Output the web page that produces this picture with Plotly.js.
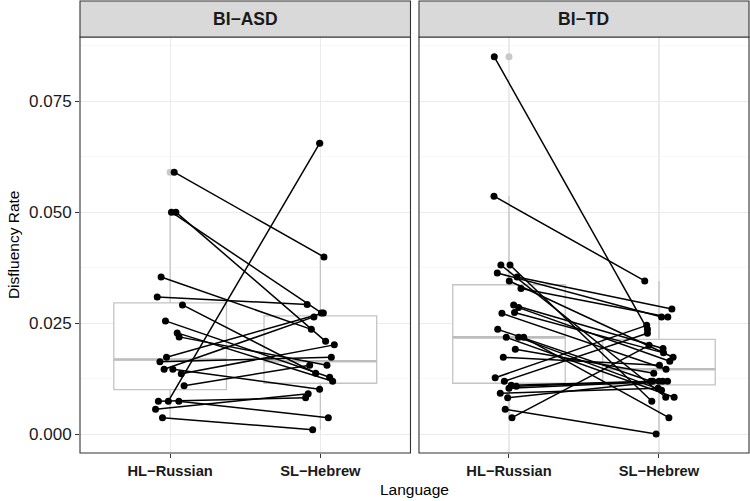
<!DOCTYPE html>
<html>
<head>
<meta charset="utf-8">
<script src="https://cdn.plot.ly/plotly-3.0.1.min.js"></script>
<style>
  html, body { margin: 0; padding: 0; background: #ffffff; }
  #chart { width: 750px; height: 501px; }
</style>
</head>
<body>
<div id="chart"></div>
<script>
// Facet labels and the two language conditions on the x axis
const groups = ['BI−ASD', 'BI−TD'];
const categories = ['HL−Russian', 'SL−Hebrew'];
const yTicks = [0, 0.025, 0.05, 0.075];
const yTickText = ['0.000', '0.025', '0.050', '0.075'];

// BI-ASD: disfluency rate per child, index i is the same child in both languages
const asdHL = [0.0590, 0.0500, 0.0500, 0.0354, 0.0309, 0.0291, 0.0255, 0.0228, 0.0219, 0.0173,
               0.0163, 0.0146, 0.0146, 0.0136, 0.0109, 0.0074, 0.0074, 0.0074, 0.0056, 0.0037];
const asdSL = [0.0399, 0.0273, 0.0209, 0.0236, 0.0292, 0.0137, 0.0128, 0.0119, 0.0155, 0.0273,
               0.0173, 0.0264, 0.0101, 0.0201, 0.0155, 0.0082, 0.0655, 0.0037, 0.0091, 0.0010];
// horizontal jitter of each point, in category units
const asdHLJitter = [0.027, 0.009, 0.038, -0.060, -0.086, 0.082, -0.031, 0.047, 0.060, -0.024,
                     -0.068, -0.040, 0.018, 0.074, 0.093, -0.078, -0.012, 0.058, -0.097, -0.051];
const asdSLJitter = [0.024, 0.007, 0.035, -0.060, -0.088, -0.031, 0.062, 0.082, 0.044, 0.020,
                     0.073, -0.043, -0.005, 0.093, -0.071, -0.098, -0.005, 0.053, -0.081, -0.051];

// BI-TD: disfluency rate per child, index i is the same child in both languages
const tdHL = [0.0850, 0.0536, 0.0381, 0.0381, 0.0363, 0.0354, 0.0345, 0.0328, 0.0291, 0.0285,
              0.0272, 0.0274, 0.0236, 0.0218, 0.0218, 0.0218, 0.0191, 0.0173, 0.0127, 0.0119,
              0.0110, 0.0108, 0.0103, 0.0092, 0.0082, 0.0056, 0.0037];
const tdSL = [0.0236, 0.0345, 0.0083, 0.0074, 0.0264, 0.0282, 0.0173, 0.0264, 0.0193, 0.0164,
              0.0146, 0.0183, 0.0119, 0.0083, 0.0099, 0.0037, 0.0137, 0.0155, 0.0245, 0.0227,
              0.0119, 0.0119, 0.0119, 0.0103, 0.0119, 0.0000, 0.0200];
const tdHLJitter = [-0.098, -0.100, -0.054, 0.007, -0.078, 0.054, 0.002, 0.080, 0.031, 0.064,
                    -0.047, 0.037, -0.075, -0.018, 0.064, 0.098, 0.042, -0.038, -0.092, -0.031,
                    0.015, 0.049, 0.000, -0.058, -0.009, -0.025, 0.020];
const tdSLJitter = [-0.077, -0.095, 0.045, -0.048, 0.017, 0.086, 0.094, 0.059, 0.027, 0.072,
                    0.047, 0.030, -0.055, 0.101, 0.017, 0.066, -0.035, 0.003, -0.082, -0.077,
                    -0.041, 0.000, 0.057, -0.006, 0.025, -0.019, -0.066];

const FONT = 'Liberation Sans, Arial, Helvetica, sans-serif';
const BOX_COLOR = '#c4c4c4';
const BOX_WIDTH = 0.75;

// Tukey box statistics with R's default (type 7) quantiles
function quantile7(sorted, p) {
  const h = (sorted.length - 1) * p;
  const lo = Math.floor(h);
  const hi = Math.min(lo + 1, sorted.length - 1);
  return sorted[lo] + (h - lo) * (sorted[hi] - sorted[lo]);
}
function boxStats(values) {
  const s = values.slice().sort((a, b) => a - b);
  const q1 = quantile7(s, 0.25), med = quantile7(s, 0.5), q3 = quantile7(s, 0.75);
  const iqr = q3 - q1;
  const inside = s.filter(v => v >= q1 - 1.5 * iqr && v <= q3 + 1.5 * iqr);
  const outliers = s.filter(v => v < q1 - 1.5 * iqr || v > q3 + 1.5 * iqr);
  return { q1, med, q3, lo: inside[0], hi: inside[inside.length - 1], outliers };
}

function panelTraces(hl, sl, hlJit, slJit, xa, ya) {
  const traces = [];
  [[hl, 1], [sl, 2]].forEach(([vals, c]) => {
    const st = boxStats(vals);
    traces.push({
      type: 'box', xaxis: xa, yaxis: ya, x: [c],
      q1: [st.q1], median: [st.med], q3: [st.q3],
      lowerfence: [st.lo], upperfence: [st.hi],
      width: BOX_WIDTH, whiskerwidth: 0, boxpoints: false,
      line: { color: BOX_COLOR, width: 1.3 },
      fillcolor: '#ffffff', hoverinfo: 'skip', showlegend: false
    });
    // heavier median bar
    traces.push({
      type: 'scatter', mode: 'lines', xaxis: xa, yaxis: ya,
      x: [c - BOX_WIDTH / 2, c + BOX_WIDTH / 2], y: [st.med, st.med],
      line: { color: '#bdbdbd', width: 2.6 }, hoverinfo: 'skip', showlegend: false
    });
    if (st.outliers.length) {
      traces.push({
        type: 'scatter', mode: 'markers', xaxis: xa, yaxis: ya,
        x: st.outliers.map(() => c), y: st.outliers,
        marker: { color: '#c8c8c8', size: 7 }, hoverinfo: 'skip', showlegend: false
      });
    }
  });
  // one segment per child joining the two languages
  const lx = [], ly = [], px = [], py = [];
  hl.forEach((v, i) => {
    const x1 = 1 + hlJit[i], x2 = 2 + slJit[i];
    lx.push(x1, x2, null); ly.push(v, sl[i], null);
    px.push(x1, x2); py.push(v, sl[i]);
  });
  traces.push({
    type: 'scatter', mode: 'lines', xaxis: xa, yaxis: ya, x: lx, y: ly,
    connectgaps: false, line: { color: '#000000', width: 1.5 },
    hoverinfo: 'skip', showlegend: false
  });
  traces.push({
    type: 'scatter', mode: 'markers', xaxis: xa, yaxis: ya, x: px, y: py,
    marker: { color: '#000000', size: 7 }, hoverinfo: 'skip', showlegend: false
  });
  return traces;
}

const data = [
  ...panelTraces(asdHL, asdSL, asdHLJitter, asdSLJitter, 'x', 'y'),
  ...panelTraces(tdHL, tdSL, tdHLJitter, tdSLJitter, 'x2', 'y2')
];

const plotTop = 416 / 452; // panel height within the plotting area, strip above it

const xCommon = {
  range: [0.4, 2.6], tickvals: [1, 2],
  ticktext: categories.map(c => '<b>' + c + '</b>'),
  ticks: 'outside', ticklen: 4, tickwidth: 1, tickcolor: '#333333',
  tickfont: { family: FONT, size: 14.7, color: '#1a1a1a' },
  showgrid: true, gridcolor: '#ebebeb', gridwidth: 1.1,
  zeroline: false, showline: false, fixedrange: true
};
const yCommon = {
  domain: [0, plotTop], range: [-0.00426, 0.08946],
  tickvals: yTicks, ticktext: yTickText,
  showgrid: true, gridcolor: '#ebebeb', gridwidth: 1.1,
  minor: { tickvals: [0.0125, 0.0375, 0.0625, 0.0875], showgrid: true,
           gridcolor: '#f3f3f3', gridwidth: 0.6, ticks: '' },
  zeroline: false, showline: false, fixedrange: true
};

const shapes = [];
const annotations = [];
['x', 'x2'].forEach((xa, k) => {
  const ya = k === 0 ? 'y' : 'y2';
  shapes.push({ type: 'rect', xref: xa + ' domain', yref: ya + ' domain',
    x0: 0, x1: 1, y0: 0, y1: 1, line: { color: '#333333', width: 1.1 },
    fillcolor: 'rgba(0,0,0,0)', layer: 'above' });
  shapes.push({ type: 'rect', xref: xa + ' domain', yref: 'paper',
    x0: 0, x1: 1, y0: plotTop, y1: 1, line: { color: '#333333', width: 1.1 },
    fillcolor: '#d9d9d9', layer: 'above' });
  annotations.push({ xref: xa + ' domain', yref: 'paper', x: 0.5, y: (plotTop + 1) / 2,
    xanchor: 'center', yanchor: 'middle', showarrow: false,
    text: '<b>' + groups[k] + '</b>', font: { family: FONT, size: 17.5, color: '#1a1a1a' } });
});
annotations.push({ xref: 'paper', yref: 'paper', x: 0.5, y: -0.081, xanchor: 'center', yanchor: 'middle',
  showarrow: false, text: 'Language', font: { family: FONT, size: 15.5, color: '#000000' } });
annotations.push({ xref: 'paper', yref: 'y domain', x: -0.1, y: 0.5, xanchor: 'center', yanchor: 'middle',
  showarrow: false, textangle: -90, text: 'Disfluency Rate', font: { family: FONT, size: 15.5, color: '#000000' } });

const layout = {
  width: 750, height: 501,
  margin: { l: 80, r: 1, t: 1, b: 48 },
  paper_bgcolor: '#ffffff', plot_bgcolor: '#ffffff',
  showlegend: false, boxmode: 'overlay',
  xaxis: Object.assign({}, xCommon, { domain: [0, 0.494], anchor: 'y' }),
  xaxis2: Object.assign({}, xCommon, { domain: [0.5067, 1], anchor: 'y2' }),
  yaxis: Object.assign({}, yCommon, { anchor: 'x', ticks: 'outside', ticklen: 4, tickwidth: 1,
    tickcolor: '#333333', tickfont: { family: FONT, size: 17, color: '#1a1a1a' } }),
  yaxis2: Object.assign({}, yCommon, { anchor: 'x2', matches: 'y', showticklabels: false, ticks: '' }),
  shapes: shapes,
  annotations: annotations
};

Plotly.newPlot('chart', data, layout, { staticPlot: true, displayModeBar: false });
</script>
</body>
</html>
